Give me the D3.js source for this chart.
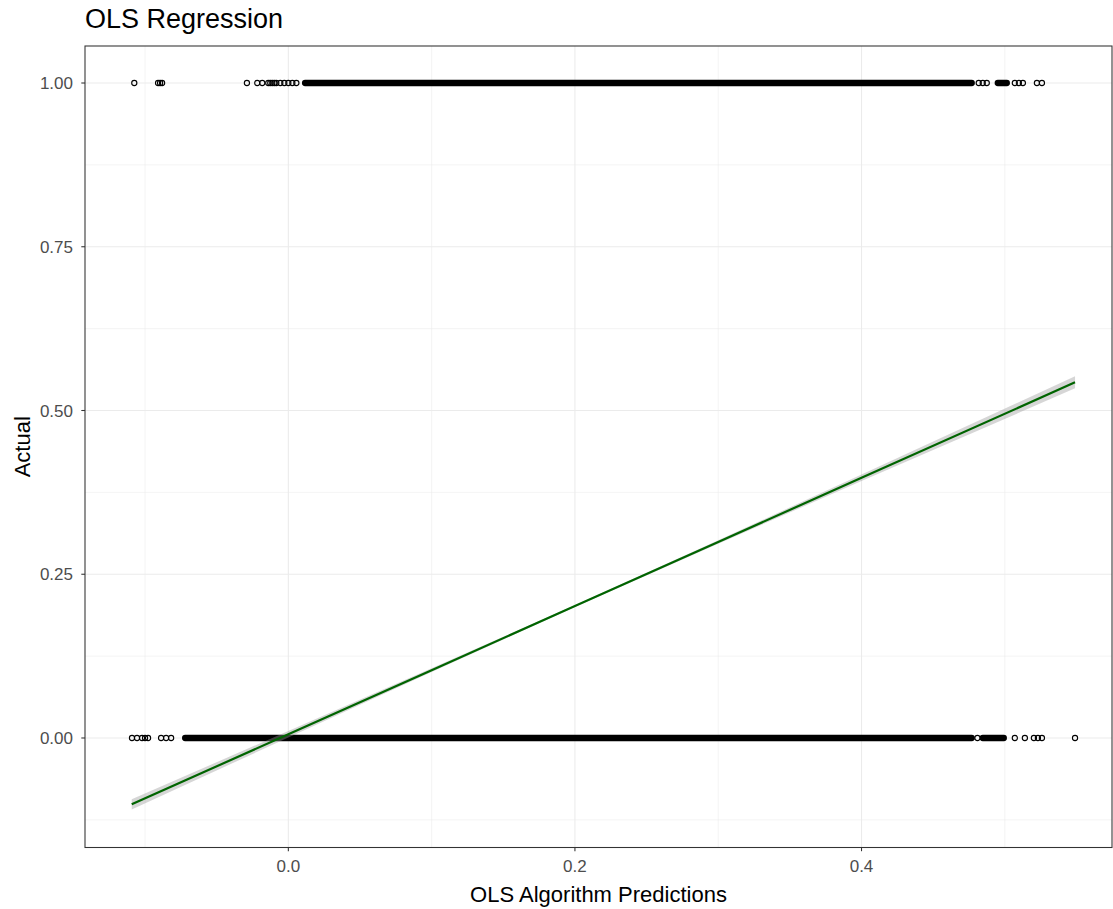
<!DOCTYPE html>
<meta charset="utf-8">
<style>
    body { margin: 0; background: #fff; }
    text { font-family: "Liberation Sans", Arial, sans-serif; }
    .grid line { stroke: #ebebeb; }
    .tick-label { fill: #4d4d4d; font-size: 17px; }
</style>
<svg width="1113" height="909"></svg>
<script src="https://d3js.org/d3.v7.min.js"></script>
<script>

    // points where Actual = 1 (single circles) and the solid stretches where they pile up
    var onesX = [-0.1075, -0.0909, -0.0895, -0.0881, -0.0289, -0.0217, -0.0182,
        -0.0140, -0.0126, -0.0112, -0.0098, -0.0084, -0.0056, -0.0028, 0.0000, 0.0028, 0.0056,
        0.4818, 0.4846, 0.4874, 0.5070, 0.5098, 0.5126, 0.5224, 0.5259];
    var onesDense = [[0.0117, 0.4769], [0.4951, 0.5014]];

    // points where Actual = 0
    var zerosX = [-0.1091, -0.1056, -0.1021, -0.1000, -0.0979, -0.0888, -0.0853, -0.0818,
        0.4809, 0.5070, 0.5140, 0.5203, 0.5231, 0.5259, 0.5490];
    var zerosDense = [[-0.0720, 0.4769], [0.4846, 0.4993]];

    // fitted OLS line and its confidence ribbon (half width)
    var fitX = [-0.1093, 0.0, 0.1, 0.2, 0.3, 0.4, 0.549];
    var fitY = [-0.1013, 0.0057, 0.1036, 0.2014, 0.2993, 0.3972, 0.543];
    var fitSe = [0.0078, 0.0050, 0.0027, 0.0014, 0.0027, 0.0050, 0.0092];

    var xMajor = [0.0, 0.2, 0.4], xMinor = [-0.1, 0.1, 0.3, 0.5];
    var yMajor = [0.00, 0.25, 0.50, 0.75, 1.00], yMinor = [-0.125, 0.125, 0.375, 0.625, 0.875];

    var svg = d3.select("svg");
    var pLeft = 85, pRight = 1112, pTop = 46, pBottom = 847.5;

    var x = d3.scaleLinear().domain([-0.1419, 0.5748]).range([pLeft, pRight]);
    var y = d3.scaleLinear().domain([-0.1672, 1.0565]).range([pBottom, pTop]);

    var grid = svg.append("g").attr("class", "grid");
    grid.selectAll(".xmin").data(xMinor).enter().append("line")
        .attr("x1", x).attr("x2", x).attr("y1", pTop).attr("y2", pBottom).attr("stroke-width", 0.53);
    grid.selectAll(".ymin").data(yMinor).enter().append("line")
        .attr("y1", y).attr("y2", y).attr("x1", pLeft).attr("x2", pRight).attr("stroke-width", 0.53);
    grid.selectAll(".xmaj").data(xMajor).enter().append("line")
        .attr("x1", x).attr("x2", x).attr("y1", pTop).attr("y2", pBottom).attr("stroke-width", 1.07);
    grid.selectAll(".ymaj").data(yMajor).enter().append("line")
        .attr("y1", y).attr("y2", y).attr("x1", pLeft).attr("x2", pRight).attr("stroke-width", 1.07);

    // points
    var pts = svg.append("g");
    var rows = [
        { v: 1, xs: onesX, dense: onesDense },
        { v: 0, xs: zerosX, dense: zerosDense }
    ];
    rows.forEach(function (r) {
        pts.selectAll(null).data(r.dense).enter().append("line")
            .attr("x1", function (d) { return x(d[0]); })
            .attr("x2", function (d) { return x(d[1]); })
            .attr("y1", y(r.v)).attr("y2", y(r.v))
            .attr("stroke", "#000").attr("stroke-width", 6.3).attr("stroke-linecap", "round");
        pts.selectAll(null).data(r.xs).enter().append("circle")
            .attr("cx", x).attr("cy", y(r.v)).attr("r", 2.6)
            .attr("fill", "none").attr("stroke", "#000").attr("stroke-width", 1.1);
    });

    // smoother
    var fit = fitX.map(function (d, i) { return { x: d, y: fitY[i], se: fitSe[i] }; });
    svg.append("path").datum(fit)
        .attr("fill", "#999999").attr("fill-opacity", 0.4)
        .attr("d", d3.area()
            .x(function (d) { return x(d.x); })
            .y0(function (d) { return y(d.y - d.se); })
            .y1(function (d) { return y(d.y + d.se); }));
    svg.append("path").datum(fit)
        .attr("fill", "none").attr("stroke", "#006400").attr("stroke-width", 2.2)
        .attr("d", d3.line()
            .x(function (d) { return x(d.x); })
            .y(function (d) { return y(d.y); }));

    // panel border
    svg.append("rect")
        .attr("x", pLeft).attr("y", pTop).attr("width", pRight - pLeft).attr("height", pBottom - pTop)
        .attr("fill", "none").attr("stroke", "#333333").attr("stroke-width", 1.07);

    // axes
    svg.selectAll(".xt").data(xMajor).enter().append("line")
        .attr("x1", x).attr("x2", x).attr("y1", pBottom).attr("y2", pBottom + 3.7)
        .attr("stroke", "#333333").attr("stroke-width", 1.07);
    svg.selectAll(".xl").data(xMajor).enter().append("text")
        .attr("class", "tick-label")
        .attr("x", x).attr("y", 872).attr("text-anchor", "middle")
        .text(d3.format(".1f"));

    svg.selectAll(".yt").data(yMajor).enter().append("line")
        .attr("y1", y).attr("y2", y).attr("x1", pLeft - 3.7).attr("x2", pLeft)
        .attr("stroke", "#333333").attr("stroke-width", 1.07);
    svg.selectAll(".yl").data(yMajor).enter().append("text")
        .attr("class", "tick-label")
        .attr("x", 73).attr("y", y).attr("dy", "0.36em").attr("text-anchor", "end")
        .text(d3.format(".2f"));

    svg.append("text")
        .attr("x", (pLeft + pRight) / 2).attr("y", 902).attr("text-anchor", "middle")
        .attr("font-size", "22px").attr("fill", "#000")
        .text("OLS Algorithm Predictions");
    svg.append("text")
        .attr("transform", "translate(30," + (pTop + pBottom) / 2 + ") rotate(-90)")
        .attr("text-anchor", "middle")
        .attr("font-size", "22px").attr("fill", "#000")
        .text("Actual");

    svg.append("text")
        .attr("x", pLeft).attr("y", 28)
        .attr("font-size", "27px").attr("fill", "#000")
        .text("OLS Regression");

</script>
